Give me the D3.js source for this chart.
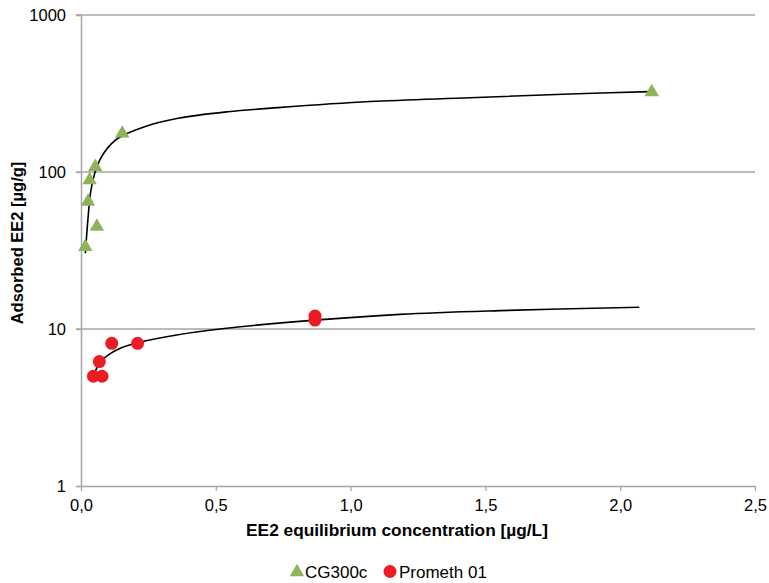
<!DOCTYPE html>
<html>
<head>
<meta charset="utf-8">
<script src="https://cdn.jsdelivr.net/npm/d3@7"></script>
<style>
html,body{margin:0;padding:0;background:#fff;}
svg{display:block;font-family:"Liberation Sans",Arial,sans-serif;}
</style>
</head>
<body>
<div id="chart"></div>
<script>
// Measured data
const cgX = [0.016, 0.026, 0.032, 0.053, 0.059, 0.153, 2.117];
const cgY = [33.4, 64.7, 88.9, 108, 44.9, 176, 323];
const prX = [0.046, 0.078, 0.068, 0.114, 0.210, 0.868, 0.868];
const prY = [5.0, 5.0, 6.2, 8.1, 8.1, 12.1, 11.4];
// Trendlines
const cgTrendX = [0.016, 0.026, 0.036, 0.057, 0.088, 0.137, 0.236, 0.360, 0.545, 0.731, 1.072, 1.443, 1.814, 2.11];
const cgTrendY = [30.4, 50.7, 75, 105.7, 134.5, 164, 194.5, 220, 242, 257, 281, 297, 314, 325];
const prTrendX = [0.049, 0.065, 0.085, 0.110, 0.150, 0.207, 0.355, 0.540, 0.787, 1.183, 1.554, 2.071];
const prTrendY = [5.2, 5.9, 6.5, 7.0, 7.6, 8.15, 9.16, 10.1, 11.1, 12.4, 13.1, 13.75];
const xTicks = [0, 0.5, 1.0, 1.5, 2.0, 2.5];
const yTicks = [1, 10, 100, 1000];
const seriesNames = ["CG300c", "Prometh 01"];

const W = 769, H = 583;
const svg = d3.select("#chart").append("svg").attr("width", W).attr("height", H);

const x = d3.scaleLinear().domain([0, 2.5]).range([81, 755]);
const y = d3.scaleLog().domain([1, 1000]).range([486, 15]);

const grid = "#a6a6a6";
const FF = "Liberation Sans, Arial, sans-serif";
// gridlines
svg.append("g").selectAll("line").data(yTicks.slice(1)).join("line")
  .attr("x1", 76).attr("x2", 755)
  .attr("y1", d => y(d)).attr("y2", d => y(d))
  .attr("stroke", grid).attr("stroke-width", 1.3);

// y axis
const yAxis = svg.append("g").attr("transform", "translate(81,0)")
  .call(d3.axisLeft(y).tickValues(yTicks).tickFormat(d3.format("d")).tickSize(5).tickPadding(10));
yAxis.select(".domain").attr("stroke", grid).attr("stroke-width", 1.5);
yAxis.selectAll(".tick line").attr("stroke", grid).attr("stroke-width", 1.3);
yAxis.selectAll("text").attr("font-size", 16.5).attr("fill", "#000").attr("font-family", FF);

// x axis
const xAxis = svg.append("g").attr("transform", "translate(0,486)")
  .call(d3.axisBottom(x).tickValues(xTicks).tickFormat(d => d3.format(".1f")(d).replace(".", ",")).tickSize(5).tickSizeOuter(0).tickPadding(8));
xAxis.select(".domain").attr("stroke", grid).attr("stroke-width", 1.5);
xAxis.selectAll(".tick line").attr("stroke", grid).attr("stroke-width", 1.3);
xAxis.selectAll("text").attr("font-size", 16.5).attr("fill", "#000").attr("font-family", FF);

// trendlines
const line = d3.line().x(d => x(d[0])).y(d => y(d[1])).curve(d3.curveCatmullRom.alpha(0.5));
svg.append("path").datum(d3.zip(cgTrendX, cgTrendY)).attr("d", line)
  .attr("fill", "none").attr("stroke", "#000").attr("stroke-width", 1.6);
svg.append("path").datum(d3.zip(prTrendX, prTrendY)).attr("d", line)
  .attr("fill", "none").attr("stroke", "#000").attr("stroke-width", 1.6);

const green = "#8fb35a", red = "#ec1c24";
const tri = d3.symbol().type(d3.symbolTriangle).size(90);
svg.append("g").selectAll("path").data(d3.zip(cgX, cgY)).join("path")
  .attr("d", tri)
  .attr("transform", d => `translate(${x(d[0])},${y(d[1])})`)
  .attr("fill", green);

svg.append("g").selectAll("circle").data(d3.zip(prX, prY)).join("circle")
  .attr("cx", d => x(d[0])).attr("cy", d => y(d[1])).attr("r", 6.5)
  .attr("fill", red);

// axis titles
svg.append("text").attr("x", 397).attr("y", 536).attr("text-anchor", "middle")
  .attr("font-size", 17.3).attr("font-weight", "bold").text("EE2 equilibrium concentration [µg/L]");
svg.append("text").attr("transform", "translate(23,243) rotate(-90)").attr("text-anchor", "middle")
  .attr("font-size", 16.5).attr("font-weight", "bold").text("Adsorbed EE2 [µg/g]");

// legend
const lg = svg.append("g");
lg.append("path").attr("d", tri).attr("transform", "translate(297,572)").attr("fill", green);
lg.append("text").attr("x", 305).attr("y", 577.5).attr("font-size", 17).text(seriesNames[0]);
lg.append("circle").attr("cx", 390).attr("cy", 571.5).attr("r", 6.5).attr("fill", red);
lg.append("text").attr("x", 399).attr("y", 577.5).attr("font-size", 17).text(seriesNames[1]);
</script>
</body>
</html>
